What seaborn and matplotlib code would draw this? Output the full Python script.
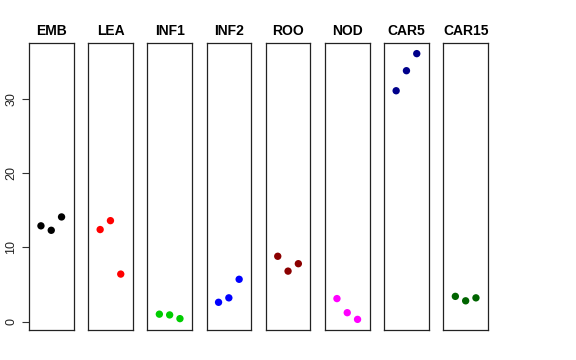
import numpy as np
import pandas as pd
import matplotlib
matplotlib.use('Agg')
import matplotlib.pyplot as plt
import seaborn as sns

# samples and replicate values
tissues = ['EMB', 'LEA', 'INF1', 'INF2', 'ROO', 'NOD', 'CAR5', 'CAR15']
emb = [12.9, 12.3, 14.1]
lea = [12.4, 13.6, 6.4]
inf1 = [1.0, 0.9, 0.4]
inf2 = [2.6, 3.2, 5.7]
roo = [8.8, 6.8, 7.8]
nod = [3.1, 1.2, 0.3]
car5 = [31.1, 33.8, 36.1]
car15 = [3.4, 2.8, 3.2]
colors = ['black', 'red', '#00CD00', 'blue', '#8B0000', 'magenta', '#00008B', '#006400']

values = [emb, lea, inf1, inf2, roo, nod, car5, car15]

sns.set_style('white')
plt.rcParams['font.family'] = ['Liberation Sans', 'DejaVu Sans']
plt.rcParams['text.color'] = 'black'
plt.rcParams['ytick.color'] = 'black'

fig = plt.figure(figsize=(5.76, 3.6), dpi=100)

allv = np.concatenate(values)
rng = allv.max() - allv.min()
ylo, yhi = allv.min() - 0.04 * rng, allv.max() + 0.04 * rng

left0, step, w = 29 / 576, 59.2 / 576, 44.5 / 576
bottom, h = 30 / 360, 287 / 360

for i, (name, vals, col) in enumerate(zip(tissues, values, colors)):
    ax = fig.add_axes([left0 + i * step, bottom, w, h])
    df = pd.DataFrame({'rep': [1, 2, 3], 'val': vals})
    sns.scatterplot(data=df, x='rep', y='val', color=col, s=28,
                    edgecolor='none', ax=ax, legend=False)
    ax.set_xlim(-0.16, 4.16)
    ax.set_ylim(ylo, yhi)
    ax.set_xlabel('')
    ax.set_ylabel('')
    ax.set_xticks([])
    ax.set_title(name, fontweight='bold', fontsize=10, pad=6, color='black')
    for sp in ax.spines.values():
        sp.set_color('#222222')
        sp.set_linewidth(0.9)
    if i == 0:
        ax.set_yticks([0, 10, 20, 30])
        ax.tick_params(axis='y', left=True, length=5, width=0.8,
                       labelsize=9, color='#333333', labelcolor='#222222')
        for lab in ax.get_yticklabels():
            lab.set_rotation(90)
            lab.set_va('center')
    else:
        ax.set_yticks([])

fig.savefig('out.png', dpi=100, facecolor='white')
